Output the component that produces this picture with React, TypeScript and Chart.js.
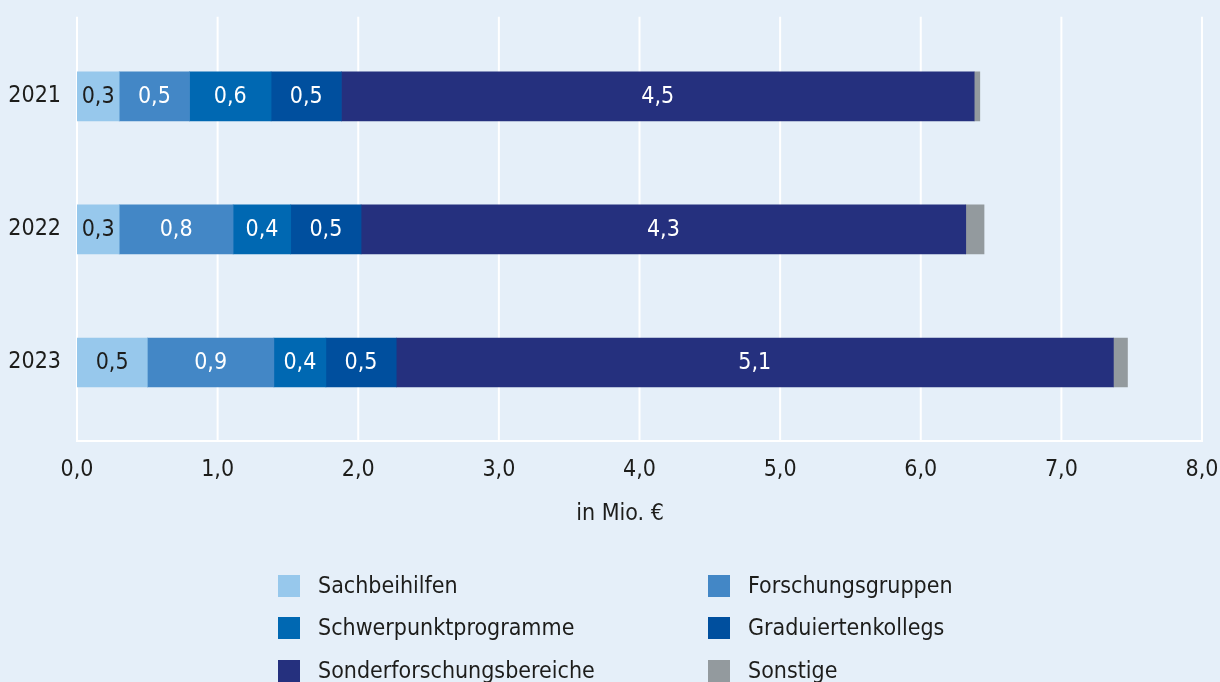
import React, { useEffect, useRef } from "react";
import { Chart, registerables } from "chart.js";

Chart.register(...registerables);

const years = ["2021", "2022", "2023"];
const sachbeihilfen = [0.3, 0.3, 0.5];
const forschungsgruppen = [0.5, 0.81, 0.9];
const schwerpunktprogramme = [0.58, 0.41, 0.37];
const graduiertenkollegs = [0.5, 0.5, 0.5];
const sonderforschungsbereiche = [4.5, 4.3, 5.1];
const sonstige = [0.04, 0.13, 0.1];

const seriesNames = [
  "Sachbeihilfen",
  "Forschungsgruppen",
  "Schwerpunktprogramme",
  "Graduiertenkollegs",
  "Sonderforschungsbereiche",
  "Sonstige",
];
const seriesColors = ["#97c8ec", "#4387c6", "#0068b2", "#004f9e", "#25307e", "#939a9e"];
const labelColors = ["#1d1d1b", "#ffffff", "#ffffff", "#ffffff", "#ffffff", null];

const xMin = 0;
const xMax = 8;
const xStep = 1;
const axisTitle = "in Mio. €";

const FONT = "'Liberation Sans Narrow', 'DejaVu Sans Condensed', 'Arial Narrow', sans-serif";
const FS = 23;
const BG = "#e5eff9";
const TEXT = "#1d1d1b";

const fmt = (v: number) => v.toFixed(1).replace(".", ",");

const bgPlugin = {
  id: "bgPlugin",
  beforeDraw(chart: any) {
    const { ctx, width, height } = chart;
    ctx.save();
    ctx.fillStyle = BG;
    ctx.fillRect(0, 0, width, height);
    ctx.restore();
  },
};

const gridPlugin = {
  id: "gridPlugin",
  beforeDatasetsDraw(chart: any) {
    const { ctx, chartArea, scales } = chart;
    const top = chartArea.top - 13;
    const bottom = chartArea.bottom + 12;
    ctx.save();
    ctx.strokeStyle = "#ffffff";
    ctx.lineWidth = 2;
    scales.x.ticks.forEach((t: any) => {
      const px = scales.x.getPixelForValue(t.value);
      ctx.beginPath();
      ctx.moveTo(px, top);
      ctx.lineTo(px, bottom);
      ctx.stroke();
    });
    ctx.beginPath();
    ctx.moveTo(scales.x.getPixelForValue(xMin) - 1, bottom);
    ctx.lineTo(scales.x.getPixelForValue(xMax) + 1, bottom);
    ctx.stroke();
    ctx.restore();
  },
};

const valueLabelPlugin = {
  id: "valueLabelPlugin",
  afterDatasetsDraw(chart: any) {
    const { ctx } = chart;
    ctx.save();
    ctx.font = `${FS}px ${FONT}`;
    ctx.textAlign = "center";
    ctx.textBaseline = "middle";
    chart.data.datasets.forEach((ds: any, i: number) => {
      const color = labelColors[i];
      if (!color) return;
      const meta = chart.getDatasetMeta(i);
      meta.data.forEach((bar: any, j: number) => {
        const { x, y, base } = bar.getProps(["x", "y", "base"], true);
        ctx.fillStyle = color;
        ctx.fillText(fmt(ds.data[j]), (x + base) / 2, y + 1);
      });
    });
    ctx.restore();
  },
};

const titleAndLegendPlugin = {
  id: "titleAndLegend",
  afterDraw(chart: any) {
    const { ctx } = chart;
    ctx.save();
    ctx.font = `${FS}px ${FONT}`;
    ctx.fillStyle = TEXT;
    ctx.textAlign = "center";
    ctx.textBaseline = "middle";
    ctx.fillText(axisTitle, 620, 514);

    const colX = [278, 708];
    const rowY = [575, 617, 660];
    const box = 22;
    ctx.textAlign = "left";
    chart.data.datasets.forEach((ds: any, i: number) => {
      const cx = colX[i % 2];
      const cy = rowY[Math.floor(i / 2)];
      ctx.fillStyle = ds.backgroundColor;
      ctx.fillRect(cx, cy, box, box);
      ctx.fillStyle = TEXT;
      ctx.fillText(ds.label, cx + 40, cy + box / 2 + 1);
    });
    ctx.restore();
  },
};

export default function App() {
  const ref = useRef<HTMLCanvasElement | null>(null);

  useEffect(() => {
    document.body.style.margin = "0";
    document.body.style.background = BG;
    const canvas = ref.current;
    if (!canvas) return;
    const values = [
      sachbeihilfen,
      forschungsgruppen,
      schwerpunktprogramme,
      graduiertenkollegs,
      sonderforschungsbereiche,
      sonstige,
    ];
    const chart = new Chart(canvas, {
      type: "bar",
      data: {
        labels: years,
        datasets: values.map((d, i) => ({
          label: seriesNames[i],
          data: d,
          backgroundColor: seriesColors[i],
          borderWidth: 0,
          barThickness: 49,
        })),
      },
      options: {
        indexAxis: "y",
        animation: false,
        responsive: false,
        layout: { padding: { top: 27, right: 18, bottom: 113, left: 0 } },
        plugins: {
          legend: { display: false },
          tooltip: { enabled: false },
        },
        scales: {
          x: {
            stacked: true,
            min: xMin,
            max: xMax,
            grid: { display: false, drawTicks: false },
            border: { display: false },
            ticks: {
              stepSize: xStep,
              maxRotation: 0,
              autoSkip: false,
              padding: 27,
              color: TEXT,
              font: { family: FONT, size: FS },
              callback: (v: any) => fmt(Number(v)),
            },
            afterFit: (s: any) => {
              s.height = 140;
              s.paddingLeft = 0;
              s.paddingRight = 0;
            },
          },
          y: {
            stacked: true,
            grid: { display: false, drawTicks: false },
            border: { display: false },
            ticks: {
              padding: 16,
              color: TEXT,
              font: { family: FONT, size: FS },
            },
            afterFit: (s: any) => {
              s.width = 77;
            },
          },
        },
      },
      plugins: [bgPlugin, gridPlugin, valueLabelPlugin, titleAndLegendPlugin],
    } as any);
    return () => chart.destroy();
  }, []);

  return (
    <div style={{ width: 1220, height: 682, background: BG }}>
      <canvas ref={ref} width={1220} height={682} style={{ display: "block" }} />
    </div>
  );
}
